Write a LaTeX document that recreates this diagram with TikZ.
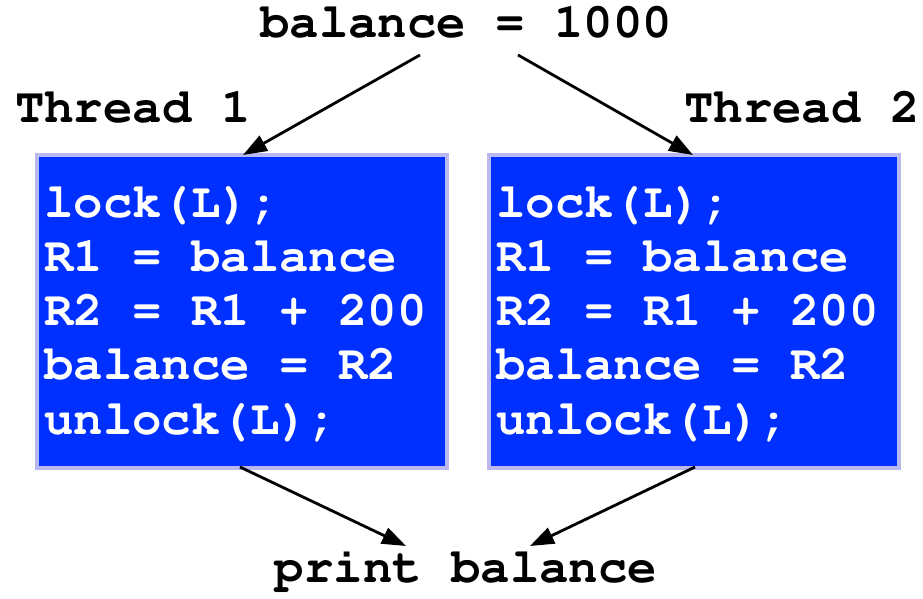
\documentclass[tikz,border=0pt]{standalone}
\usepackage[T1]{fontenc}
\usepackage{courier}
\usetikzlibrary{arrows.meta}
\definecolor{boxblue}{RGB}{0,48,255}
\definecolor{boxedge}{RGB}{185,185,240}
\tikzset{
  lbl/.style={font=\ttfamily\bfseries\fontsize{49}{54}\selectfont, inner sep=0pt, anchor=base},
  codeline/.style={lbl, text=white, anchor=base west},
  codebox/.style={draw=boxedge, line width=4pt, fill=boxblue, minimum width=410pt, minimum height=313pt, inner sep=0pt},
  flow/.style={line width=2.8pt, -{Triangle[length=24pt,width=17pt]}}
}
\begin{document}
\begin{tikzpicture}[x=1pt,y=-1pt]
  \useasboundingbox (0,0) rectangle (923,599);
  % shared variable and final output
  \node[lbl] (bal) at (466,38) {balance = 1000};
  \node[lbl] (prt) at (466,582) {print balance};
  % thread captions
  \node[lbl, anchor=base west] (th1) at (15,123) {Thread 1};
  \node[lbl, anchor=base west] (th2) at (684,123) {Thread 2};
  % thread code blocks
  \node[codebox] (box1) at (242,311.5) {};
  \node[codebox] (box2) at (694,311.5) {};
  \foreach \b/\x in {1/44, 2/496} {
    \node[codeline] (l1\b) at (\x,217) {lock(L);};
    \node[codeline] (l2\b) at (\x,271.25) {R1 = balance};
    \node[codeline] (l3\b) at (\x,325.5) {R2 = R1 + 200};
    \node[codeline] (l4\b) at (\x,379.75) {balance = R2};
    \node[codeline] (l5\b) at (\x,434) {unlock(L);};
  }
  % arrow end points
  \coordinate (s1) at (420,55);
  \coordinate (s2) at (518,55);
  \coordinate (e1) at (243,155);
  \coordinate (e2) at (693,155);
  \coordinate (b1) at (240,467);
  \coordinate (b2) at (695,467);
  \coordinate (p1) at (406,546);
  \coordinate (p2) at (530,546);
  \draw[flow] (s1) -- (e1);
  \draw[flow] (s2) -- (e2);
  \draw[flow] (b1) -- (p1);
  \draw[flow] (b2) -- (p2);
\end{tikzpicture}
\end{document}
